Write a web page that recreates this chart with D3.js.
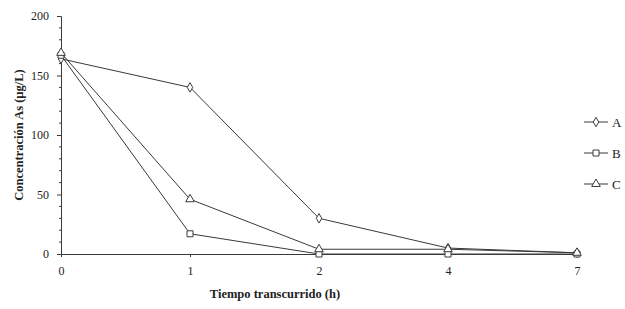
<!DOCTYPE html>
<html>
<head>
<meta charset="utf-8">
<script src="https://cdn.jsdelivr.net/npm/d3@7"></script>
<style>
  body { margin: 0; background: #fff; }
  svg { display: block; }
  text { font-family: "Liberation Serif", "DejaVu Serif", serif; fill: #222; }
</style>
</head>
<body>
<div id="chart"></div>
<script>
'use strict'

// Data.
let hours = ['0', '1', '2', '4', '7'];
let seriesNames = ['A', 'B', 'C'];
let valuesA = [164, 140, 30, 5, 1];
let valuesB = [167, 17, 0, 0, 0];
let valuesC = [169, 46, 4, 4, 1];
let yTicks = [0, 50, 100, 150, 200];

let width = 625, height = 309;
let margin = {top: 16, right: 48, bottom: 55, left: 61};
let ink = '#3a3a3a';

let svg = d3.select('#chart')
    .append('svg')
        .attr('width', width)
        .attr('height', height);

let x = d3.scalePoint()
    .domain(hours)
    .range([margin.left, width - margin.right]);

let y = d3.scaleLinear()
    .domain([0, 200])
    .range([height - margin.bottom, margin.top]);

// Y axis with minor ticks.
let yAxis = svg.append('g')
    .attr('transform', `translate(${margin.left},0)`)
    .call(d3.axisLeft(y).tickValues(yTicks).tickSize(4).tickPadding(8));
yAxis.select('.domain').attr('stroke', ink);
yAxis.selectAll('.tick line').attr('stroke', ink);
yAxis.selectAll('.tick text').style('font-size', '12px').attr('fill', '#222');

svg.append('g')
    .selectAll('line')
    .data(d3.range(0, 201, 10).filter(v => v % 50 !== 0))
    .join('line')
        .attr('x1', margin.left - 2)
        .attr('x2', margin.left)
        .attr('y1', d => y(d))
        .attr('y2', d => y(d))
        .attr('stroke', ink);

// X axis (category).
let xAxis = svg.append('g')
    .attr('transform', `translate(0,${y(0)})`)
    .call(d3.axisBottom(x).tickSize(3).tickPadding(9).tickSizeOuter(0));
xAxis.select('.domain').attr('stroke', ink);
xAxis.selectAll('.tick line').attr('stroke', ink);
xAxis.selectAll('.tick text').style('font-size', '12px').attr('fill', '#222');

// Axis titles.
svg.append('text')
    .attr('x', 275)
    .attr('y', 298)
    .attr('text-anchor', 'middle')
    .style('font-size', '12.5px')
    .style('font-weight', 'bold')
    .text('Tiempo transcurrido (h)');

svg.append('text')
    .attr('transform', `translate(23,135) rotate(-90)`)
    .attr('text-anchor', 'middle')
    .style('font-size', '12.5px')
    .style('font-weight', 'bold')
    .text('Concentración As (µg/L)');

// Markers.
let shapes = {
    A: d3.symbol().type(d3.symbolDiamond).size(26),
    B: d3.symbol().type(d3.symbolSquare).size(36),
    C: d3.symbol().type(d3.symbolTriangle).size(32)
};

let series = [
    {name: 'A', values: valuesA},
    {name: 'B', values: valuesB},
    {name: 'C', values: valuesC}
];

let line = d3.line()
    .x((d, i) => x(hours[i]))
    .y(d => y(d));

series.forEach(s => {
    svg.append('path')
        .datum(s.values)
        .attr('fill', 'none')
        .attr('stroke', ink)
        .attr('stroke-width', 1)
        .attr('d', line);

    svg.append('g')
        .selectAll('path')
        .data(s.values)
        .join('path')
            .attr('transform', (d, i) => `translate(${x(hours[i])},${y(d)})`)
            .attr('d', shapes[s.name])
            .attr('fill', '#fff')
            .attr('stroke', ink)
            .attr('stroke-width', 1);
});

// Legend.
let legend = svg.append('g')
    .selectAll('g')
    .data(seriesNames)
    .join('g')
        .attr('transform', (d, i) => `translate(584,${122 + i * 31})`);

legend.append('line')
    .attr('x1', 0)
    .attr('x2', 24)
    .attr('stroke', ink);

legend.append('path')
    .attr('transform', 'translate(12,0)')
    .attr('d', d => shapes[d]())
    .attr('fill', '#fff')
    .attr('stroke', ink);

legend.append('text')
    .attr('x', 28)
    .attr('dy', '0.35em')
    .style('font-size', '13px')
    .text(d => d);
</script>
</body>
</html>
